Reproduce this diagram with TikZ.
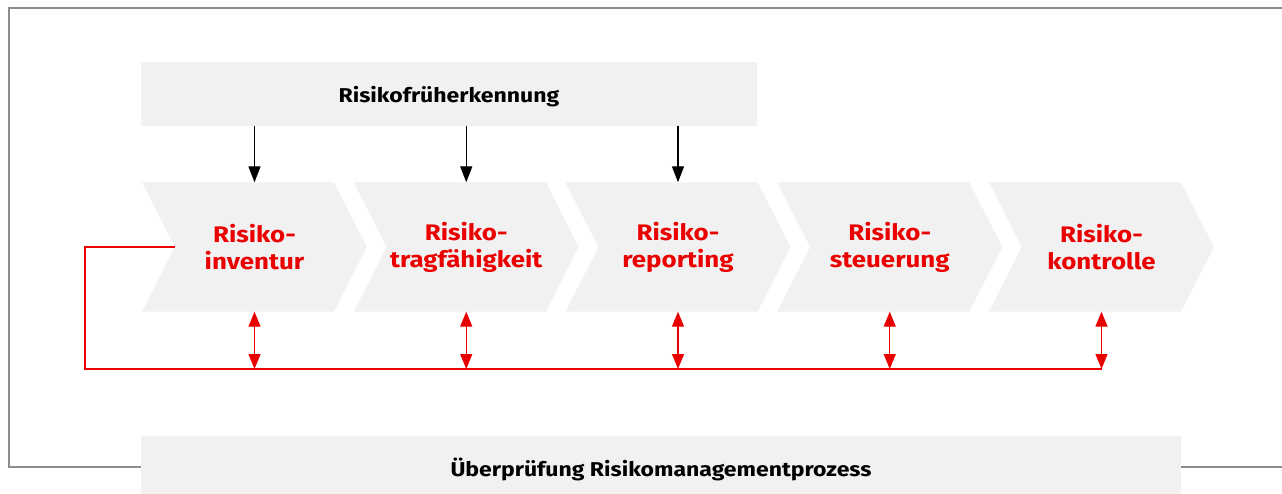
\documentclass[tikz,border=0pt]{standalone}
\usepackage{fontspec}
\setmainfont{Fira Sans}[FakeStretch=1.15]
\usepackage{xcolor}
\definecolor{srot}{RGB}{235,0,0}
\definecolor{hellgrau}{RGB}{241,241,241}
\definecolor{rahmengrau}{RGB}{140,140,140}
\usepackage{tikz}
\usetikzlibrary{shapes.symbols}
\usetikzlibrary{positioning}
\usetikzlibrary{arrows.meta}

\tikzset{
  feld/.style={fill=hellgrau,inner sep=0pt,text depth=0pt,font=\bfseries\fontsize{20}{24}\selectfont},
  schritt/.style={shape=signal,signal to=east,signal from=west,signal pointer angle=126,
    fill=hellgrau,inner sep=0pt,minimum width=225pt,minimum height=129pt,
    align=center,text=srot,font=\bfseries\fontsize{22.5}{27}\selectfont},
  pfeil/.style={line width=1.4pt,-{Triangle[length=16pt,width=12pt]}},
  rpfeil/.style={line width=1.4pt,draw=srot,{Triangle[length=15pt,width=12pt]}-{Triangle[length=15pt,width=12pt]}}
}

\begin{document}
\begin{tikzpicture}[x=1pt,y=-1pt]
\useasboundingbox (0,0) rectangle (1282,494);
\draw[rahmengrau,line width=2pt] (1290,8.5) -- (8.5,8.5) -- (8.5,467) -- (1290,467);

\node (frueh) at (449,94) [feld,text height=18pt,minimum width=616pt,minimum height=64pt]{Risikofrüherkennung};
\node (pruefung) at (661,465) [feld,text height=22pt,minimum width=1040pt,minimum height=58pt]{Überprüfung Risikomanagementprozess};

\node (inventur) at (254.5,247) [schritt]{Risiko-\\inventur};
\node (tragf) at (466.25,247) [schritt]{Risiko-\\tragfähigkeit};
\node (reporting) at (678,247) [schritt]{Risiko-\\reporting};
\node (steuerung) at (889.75,247) [schritt]{Risiko-\\steuerung};
\node (kontrolle) at (1101.5,247) [schritt]{Risiko-\\kontrolle};

\coordinate (ruecklauf) at (85,369);

% Frueherkennung liefert an die ersten drei Schritte
\foreach \s in {inventur,tragf,reporting}
  \draw[pfeil] (\s |- frueh.south) -- (\s.north);

% Rueckkopplung
\draw[srot,line width=1.4pt] (inventur.west) -| (ruecklauf) -- (kontrolle |- ruecklauf);
\foreach \s in {inventur,tragf,reporting,steuerung,kontrolle}
  \draw[rpfeil] (\s.south) -- (\s |- ruecklauf);
\end{tikzpicture}
\end{document}
